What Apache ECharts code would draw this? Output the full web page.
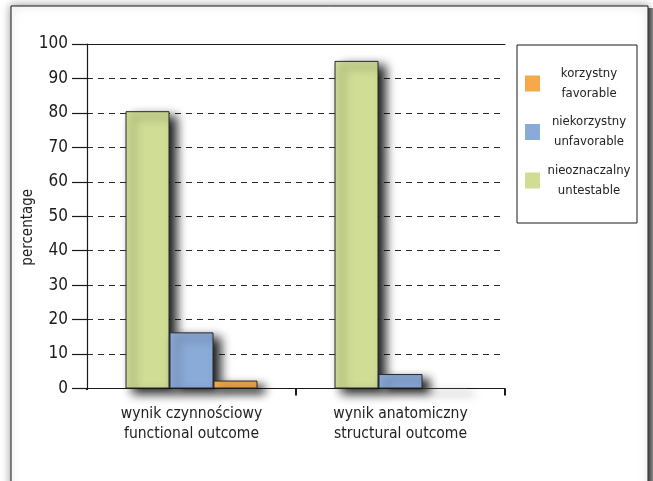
<!DOCTYPE html>
<html>
<head>
<meta charset="utf-8">
<script src="https://cdn.jsdelivr.net/npm/echarts@6/dist/echarts.min.js"></script>
<style>
  html, body { margin: 0; padding: 0; background: #fff; }
  #chart { width: 653px; height: 481px; }
</style>
</head>
<body>
<div id="chart"></div>
<script>
// Outcome categories (Polish / English)
const categories = ['wynik czynnościowy\nfunctional outcome', 'wynik anatomiczny\nstructural outcome'];

// Percentages per outcome group
const untestable = [80.5, 95.1];   // nieoznaczalny
const unfavorable = [16.3, 4.2];   // niekorzystny
const favorable = [2.3, 0];        // korzystny

const seriesNames = {
  favorable: 'korzystny\nfavorable',
  unfavorable: 'niekorzystny\nunfavorable',
  untestable: 'nieoznaczalny\nuntestable'
};

const yTicks = [0, 10, 20, 30, 40, 50, 60, 70, 80, 90, 100];

// Narrow face of DejaVu Sans, selected through the font-stretch keyword
const FONT = "'DejaVu Sans', sans-serif";
const STRETCH = 'condensed';

const chart = echarts.init(document.getElementById('chart'), null, { renderer: 'canvas' });

const barStyle = (color) => ({
  color: color,
  borderColor: '#2b2b2b',
  borderWidth: 1,
  shadowColor: 'rgba(0,0,0,0.9)',
  shadowBlur: 10,
  shadowOffsetX: 7,
  shadowOffsetY: 5
});

chart.setOption({
  animation: false,
  backgroundColor: '#ffffff',
  textStyle: { fontFamily: FONT, fontWeight: STRETCH },
  graphic: [
    {
      type: 'rect', z: -10,
      shape: { x: 11, y: 6, width: 637, height: 500 },
      style: { fill: '#ffffff', stroke: '#1a1a1a', lineWidth: 1,
               shadowColor: 'rgba(0,0,0,0.4)', shadowBlur: 9 }
    },
    {
      type: 'rect', z: -9,
      shape: { x: 648, y: 8, width: 5, height: 500 },
      style: {
        fill: new echarts.graphic.LinearGradient(0, 0, 1, 0, [
          { offset: 0, color: '#3a3a3a' },
          { offset: 1, color: '#8a8a8a' }
        ])
      }
    },
    {
      // keeps the corner under the value axis free of a category tick
      type: 'rect', z: 100,
      shape: { x: 85, y: 390, width: 4, height: 9 },
      style: { fill: '#ffffff' }
    }
  ],
  grid: { left: 87, top: 44, right: 148, bottom: 92.5, containLabel: false },
  legend: {
    data: [seriesNames.favorable, seriesNames.unfavorable, seriesNames.untestable],
    orient: 'vertical',
    left: 517, top: 45,
    padding: [22, 4, 26, 8],
    itemWidth: 15, itemHeight: 16,
    itemGap: 15.5,
    borderColor: '#1a1a1a', borderWidth: 1,
    icon: 'rect',
    itemStyle: { borderWidth: 0, shadowBlur: 0, shadowOffsetX: 0, shadowOffsetY: 0 },
    formatter: (name) => name.split('\n').map(s => '{t|' + s + '}').join('\n'),
    textStyle: {
      rich: { t: { width: 88, align: 'center', fontSize: 13, lineHeight: 20, color: '#222',
                   fontFamily: FONT, fontWeight: STRETCH } }
    }
  },
  xAxis: [
    {
      type: 'category',
      data: categories,
      position: 'bottom',
      axisLine: { lineStyle: { color: '#1a1a1a', width: 1.2 } },
      axisTick: { show: true, length: 7, lineStyle: { color: '#1a1a1a', width: 2 } },
      axisLabel: { fontSize: 15.5, lineHeight: 20, color: '#222', margin: 15,
                   fontFamily: FONT, fontWeight: STRETCH }
    },
    {
      type: 'category',
      data: categories,
      position: 'top',
      axisLine: { lineStyle: { color: '#1a1a1a', width: 1.2 } },
      axisTick: { show: false },
      axisLabel: { show: false }
    }
  ],
  yAxis: {
    type: 'value',
    min: 0, max: 100, interval: 10,
    name: 'percentage',
    nameLocation: 'middle',
    nameRotate: 90,
    nameGap: 51,
    nameMoveOverlap: false,
    nameTextStyle: { fontSize: 15, color: '#222', fontFamily: FONT, fontWeight: STRETCH,
                     padding: [0, 22, 0, 0] },
    axisLine: { show: true, lineStyle: { color: '#1a1a1a', width: 1.2 } },
    axisTick: { show: true, length: 15, lineStyle: { color: '#1a1a1a', width: 1.2 } },
    axisLabel: {
      fontSize: 17, color: '#1a1a1a', margin: 19, fontFamily: FONT, fontWeight: STRETCH,
      formatter: (v) => yTicks.includes(v) ? String(v) : ''
    },
    splitLine: { show: true, lineStyle: { color: '#2a2a2a', type: [6, 5], width: 1.2 } }
  },
  series: [
    { name: seriesNames.untestable, type: 'bar', data: untestable, barWidth: 44, barGap: '0%',
      itemStyle: barStyle('#CFDD95') },
    { name: seriesNames.unfavorable, type: 'bar', data: unfavorable, barWidth: 44, barGap: '0%',
      itemStyle: barStyle('#8AAAD8') },
    { name: seriesNames.favorable, type: 'bar', data: favorable, barWidth: 44, barGap: '0%',
      itemStyle: barStyle('#F5A94A') }
  ]
});
</script>
</body>
</html>
